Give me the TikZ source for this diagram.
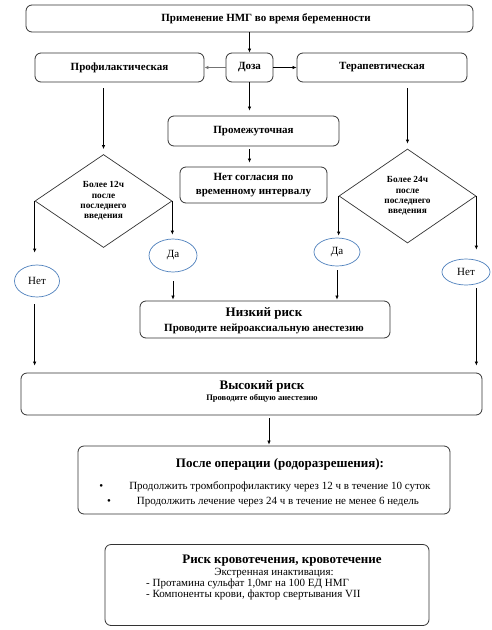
\documentclass[tikz,border=0pt]{standalone}
\usepackage{fontspec}
\setmainfont{Liberation Serif}
\usetikzlibrary{shapes.geometric,arrows.meta,calc}
\definecolor{ellblue}{HTML}{4F81BD}
\definecolor{boxline}{HTML}{333333}
\begin{document}
\begin{tikzpicture}[x=1pt,y=-1pt,
  box/.style={draw=boxline, line width=0.8pt, rounded corners=6pt, inner sep=1pt, align=center, font=\bfseries\fontsize{11}{14}\selectfont},
  dia/.style={draw=boxline, line width=0.7pt, diamond, inner sep=0pt, align=center, font=\bfseries\fontsize{9.3}{10.3}\selectfont},
  oval/.style={draw=ellblue, line width=0.7pt, ellipse, inner sep=0pt, font=\fontsize{11}{12}\selectfont},
  arr/.style={-{Latex[length=4pt,width=3.5pt]}, line width=0.7pt},
  txt/.style={inner sep=0pt, font=\fontsize{11}{13}\selectfont},
  ttl/.style={inner sep=0pt, font=\bfseries\fontsize{13}{15}\selectfont},
  ]
\fill[white] (0,0) rectangle (492,630);
\useasboundingbox (0,0) rectangle (492,630);

\node[box, minimum width=447pt, minimum height=27pt] (top) at (249.5,18.5) {};
\node[txt, font=\bfseries\fontsize{11}{13}\selectfont] (toptxt) at (266,18.5) {Применение НМГ во время беременности};

\node[box, minimum width=169pt, minimum height=29pt] (prof) at (119.5,67.5) {Профилактическая};
\node[box, minimum width=47pt, minimum height=29pt] (doza) at (249.5,67.5) {Доза};
\node[box, minimum width=170pt, minimum height=29pt] (ther) at (382,67.5) {Терапевтическая};
\node[box, minimum width=171pt, minimum height=30pt] (prom) at (253.5,131) {Промежуточная};
\node[box, minimum width=147pt, minimum height=36pt] (nosogl) at (253.5,185) {Нет согласия по\\временному интервалу};

\node[dia, minimum width=137pt, minimum height=93pt] (d1) at (103.5,201) {Более 12ч\\после\\последнего\\введения};
\node[dia, minimum width=137pt, minimum height=94pt] (d2) at (407.5,196) {Более 24ч\\после\\последнего\\введения};

\node[oval, minimum width=45pt, minimum height=32pt] (net1) at (37,281) {Нет};
\node[oval, minimum width=48pt, minimum height=33pt] (da1) at (173,255.5) {Да};
\node[oval, minimum width=46pt, minimum height=28pt] (da2) at (337,252) {Да};
\node[oval, minimum width=48pt, minimum height=26pt] (net2) at (466,272) {Нет};

\node[box, minimum width=250pt, minimum height=37pt] (low) at (265,319.5) {};
\node[ttl] (lowtitle) at (264,313) {Низкий риск};
\node[txt, font=\bfseries\fontsize{11}{13}\selectfont] (lowtxt) at (264,329) {Проводите нейроаксиальную анестезию};

\node[box, minimum width=461pt, minimum height=42pt] (high) at (251.5,394) {};
\node[ttl] (hightitle) at (262,386) {Высокий риск};
\node[txt, font=\bfseries\fontsize{8.5}{10}\selectfont] (hightxt) at (262,398) {Проводите общую анестезию};

\node[box, minimum width=372pt, minimum height=68pt] (after) at (264,480) {};
\node[ttl] (aftertitle) at (280,464) {После операции (родоразрешения):};
\node[txt] (afterl1) at (265,487) {\textbullet\hspace{26pt}Продолжить тромбопрофилактику через 12 ч в течение 10 суток};
\node[txt] (afterl2) at (263,502) {\textbullet\hspace{26pt}Продолжить лечение через 24 ч в течение  не менее 6 недель};

\node[box, minimum width=324pt, minimum height=81pt] (bleed) at (267,585) {};
\node[ttl] (bleedtitle) at (282,561) {Риск кровотечения, кровотечение};
\node[txt] (ekstr) at (274,573) {Экстренная инактивация:};
\node[txt, anchor=west] (prot) at (146,584) {- Протамина сульфат 1,0мг на 100 ЕД НМГ};
\node[txt, anchor=west] (komp) at (146,595) {- Компоненты крови, фактор свертывания VII};

\draw[arr] (top.south) -- (doza.north);
\draw[arr, draw=black!55, fill=black!55, line width=1.2pt] (doza.west) -- (prof.east);
\draw[arr] (doza.east) -- (ther.west);
\draw[arr, shorten >=5pt] (doza.south) -- (doza.south |- prom.north);
\draw[arr, shorten <=6pt, shorten >=5pt] (d1.north |- prof.south) -- (d1.north);
\draw[arr, shorten <=6pt, shorten >=5pt] (d2.north |- ther.south) -- (d2.north);
\draw[arr, shorten <=3pt, shorten >=4pt] (prom.south -| doza.south) -- (doza.south |- nosogl.north);
\draw[arr, shorten >=12pt] (d1.west) -- (d1.west |- net1.north);
\draw[arr, shorten >=4pt] (d1.east) -- (d1.east |- da1.north);
\draw[arr, shorten >=2pt] (d2.west) -- (d2.west |- da2.north);
\draw[arr, shorten >=9pt] (d2.east) -- (d2.east |- net2.north);
\draw[arr, shorten <=9pt, shorten >=1pt] (da1.south) -- (da1.south |- low.north);
\draw[arr, shorten <=4pt, shorten >=1pt] (da2.south) -- (da2.south |- low.north);
\draw[arr, shorten <=7pt, shorten >=7pt] (net1.south -| d1.west) -- (d1.west |- high.north);
\draw[arr, shorten <=3pt, shorten >=7pt] (net2.south -| d2.east) -- (d2.east |- high.north);
\coordinate (hx) at ($(after.north)+(5,0)$);
\draw[arr, shorten <=3pt, shorten >=1pt] (hx |- high.south) -- (hx);
\end{tikzpicture}
\end{document}
